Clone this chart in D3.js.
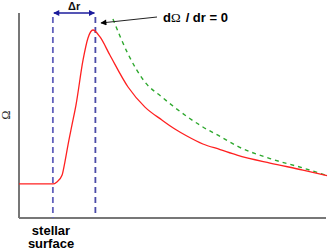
<!DOCTYPE html>
<html>
<head>
<meta charset="utf-8">
<script src="https://cdn.jsdelivr.net/npm/d3@7"></script>
<style>
  body { margin: 0; background: #fff; }
  text { font-family: "Liberation Sans", Arial, sans-serif; }
</style>
</head>
<body>
<div id="chart"></div>
<script>
// rotation profile (r in arbitrary units, omega normalised)
var redR     = [0, 0.68, 1.10, 1.23, 1.40, 1.49, 1.59, 1.72, 1.85, 2.08, 2.24, 2.40, 2.63, 2.95, 3.54, 4.09, 4.64, 5.06, 5.45, 5.97, 6.53, 7.08, 8.15, 9.22, 10];
var redOmega = [0.166, 0.166, 0.166, 0.176, 0.210, 0.273, 0.356, 0.454, 0.551, 0.771, 0.878, 0.917, 0.883, 0.795, 0.639, 0.541, 0.478, 0.434, 0.400, 0.361, 0.334, 0.307, 0.268, 0.234, 0.207];
// comparison curve
var greenR     = [3.05, 3.54, 4.09, 4.64, 5.00, 5.97, 6.53, 7.08, 8.15, 9.22, 10];
var greenOmega = [0.971, 0.800, 0.663, 0.590, 0.546, 0.444, 0.398, 0.351, 0.290, 0.244, 0.207];

var surfaceR = 1.10;   // stellar surface
var peakR = 2.48;      // dOmega/dr = 0

var margin = {top: 13, right: 5, bottom: 31, left: 19},
    width = 332 - margin.left - margin.right,
    height = 249 - margin.top - margin.bottom;

var svg = d3.select("#chart")
  .append("svg")
    .attr("width", 332)
    .attr("height", 249);

var defs = svg.append("defs");
function marker(id, color, orient) {
  defs.append("marker")
    .attr("id", id)
    .attr("viewBox", "0 0 10 10")
    .attr("refX", 9).attr("refY", 5)
    .attr("markerWidth", 8).attr("markerHeight", 6)
    .attr("markerUnits", "userSpaceOnUse")
    .attr("orient", orient)
    .append("path")
      .attr("d", "M0,0 L10,5 L0,10 z")
      .attr("fill", color);
}
marker("arrBlue", "#1c1c9c", "auto-start-reverse");
marker("arrBlack", "#000", "auto");

var g = svg.append("g")
  .attr("transform", "translate(" + margin.left + "," + margin.top + ")");

var x = d3.scaleLinear().domain([0, 10]).range([0, width]);
var y = d3.scaleLinear().domain([0, 1]).range([height, 0]);

// axes (plain lines, no ticks)
g.append("line")
  .attr("x1", 0).attr("x2", 0).attr("y1", 0).attr("y2", height)
  .attr("stroke", "#777").attr("stroke-width", 2);
g.append("line")
  .attr("x1", 0).attr("x2", width - 1).attr("y1", height).attr("y2", height)
  .attr("stroke", "#777").attr("stroke-width", 2);

// vertical dashed markers
g.append("line")
  .attr("x1", x(surfaceR)).attr("x2", x(surfaceR))
  .attr("y1", y(0.98)).attr("y2", y(0))
  .attr("stroke", "#6262bc").attr("stroke-width", 1.8)
  .attr("stroke-dasharray", "6,4");
g.append("line")
  .attr("x1", x(peakR)).attr("x2", x(peakR))
  .attr("y1", y(0.98)).attr("y2", y(0.024))
  .attr("stroke", "#4a4aa8").attr("stroke-width", 1.8)
  .attr("stroke-dasharray", "6,4");

var line = d3.line()
  .x(function(d) { return x(d[0]); })
  .y(function(d) { return y(d[1]); })
  .curve(d3.curveMonotoneX);

var redData = redR.map(function(r, i) { return [r, redOmega[i]]; });
var greenData = greenR.map(function(r, i) { return [r, greenOmega[i]]; });

g.append("path")
  .datum(greenData)
  .attr("d", line)
  .attr("fill", "none")
  .attr("stroke", "#2ea82e").attr("stroke-width", 1.4)
  .attr("stroke-dasharray", "4,4");

g.append("path")
  .datum(redData)
  .attr("d", line)
  .attr("fill", "none")
  .attr("stroke", "#ff2020").attr("stroke-width", 1.3);

// delta r arrow
g.append("line")
  .attr("x1", x(surfaceR) + 1).attr("x2", x(peakR) - 1)
  .attr("y1", 0).attr("y2", 0)
  .attr("stroke", "#1c1c9c").attr("stroke-width", 1.3)
  .attr("marker-start", "url(#arrBlue)")
  .attr("marker-end", "url(#arrBlue)");
g.append("text")
  .attr("x", (x(surfaceR) + x(peakR)) / 2)
  .attr("y", -3)
  .attr("text-anchor", "middle")
  .style("font-size", "11px")
  .style("font-weight", "bold")
  .attr("fill", "#111")
  .text("\u0394r");

// annotation arrow
g.append("line")
  .attr("x1", 138).attr("y1", 4)
  .attr("x2", 82).attr("y2", 10)
  .attr("stroke", "#222").attr("stroke-width", 1)
  .attr("marker-end", "url(#arrBlack)");
var ann = g.append("text")
  .attr("x", 144).attr("y", 9)
  .style("font-size", "13px")
  .style("font-weight", "bold")
  .attr("fill", "#000");
ann.append("tspan").text("d");
ann.append("tspan")
  .style("font-family", "'Liberation Serif', 'DejaVu Serif', serif")
  .style("font-weight", "normal")
  .text("\u03A9");
ann.append("tspan").attr("dx", 5).text("/ dr = 0");

// y label
svg.append("text")
  .attr("transform", "translate(10,115) rotate(-90)")
  .attr("text-anchor", "middle")
  .style("font-family", "'Liberation Serif', 'DejaVu Serif', serif")
  .style("font-size", "12px")
  .attr("fill", "#222")
  .text("\u03A9");

// x label under the surface marker
var lab = svg.append("text")
  .attr("text-anchor", "middle")
  .style("font-size", "13px")
  .style("font-weight", "bold")
  .attr("fill", "#000");
lab.append("tspan").attr("x", 51).attr("y", 235).text("stellar");
lab.append("tspan").attr("x", 51).attr("y", 247.5).text("surface");
</script>
</body>
</html>
